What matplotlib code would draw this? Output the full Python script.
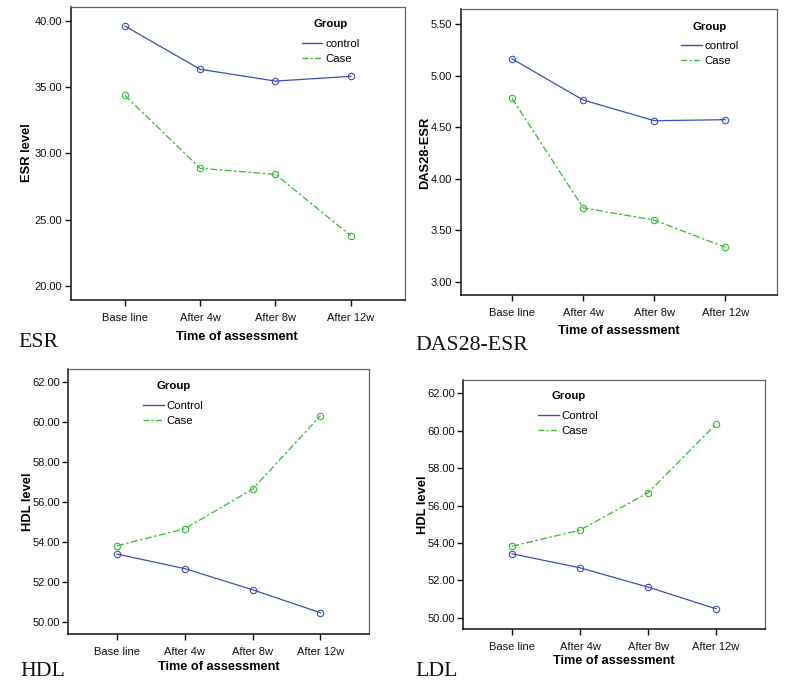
import matplotlib
matplotlib.use("Agg")
import matplotlib.pyplot as plt
from matplotlib.lines import Line2D

# ---- data ----
time_points = ["Base line", "After 4w", "After 8w", "After 12w"]

esr_control = [39.62, 36.35, 35.46, 35.82]
esr_case = [34.38, 28.87, 28.41, 23.78]

das_control = [5.163, 4.763, 4.562, 4.572]
das_case = [4.780, 3.717, 3.597, 3.334]

hdl_control = [53.39, 52.66, 51.60, 50.45]
hdl_case = [53.81, 54.66, 56.65, 60.33]

ldl_control = [53.42, 52.67, 51.64, 50.48]
ldl_case = [53.83, 54.69, 56.69, 60.36]

esr_ticks = [20.0, 25.0, 30.0, 35.0, 40.0]
das_ticks = [3.0, 3.5, 4.0, 4.5, 5.0, 5.5]
lip_ticks = [50.0, 52.0, 54.0, 56.0, 58.0, 60.0, 62.0]

W, H = 787, 691
plt.rcParams['font.family'] = ['Liberation Sans', 'DejaVu Sans']
fig = plt.figure(figsize=(W / 100, H / 100), dpi=100)

BLUE = "#3a4ec0"
GREEN = "#2cc02c"
CASE_DASH = (0, (5.5, 2.0, 2.0, 2.0))


def px_rect(l, r, t, b):
    return [l / W, 1 - b / H, (r - l) / W, (b - t) / H]


panels = [
    dict(rect=(70.7, 405, 6.7, 300), ctrl=esr_control, case=esr_case, ticks=esr_ticks,
         ylim=(18.92, 41.08), ylabel="ESR level", ylab_xy=(26.7, 153),
         xlab_xy=(237, 337), leg_xy=(301.7, 19.0), labels=("control", "Case"),
         title="ESR", title_xy=(18, 347)),
    dict(rect=(460.7, 776.7, 9.3, 295), ctrl=das_control, case=das_case, ticks=das_ticks,
         ylim=(2.871, 5.643), ylabel="DAS28-ESR", ylab_xy=(425, 152.5),
         xlab_xy=(618.7, 331), leg_xy=(681, 21.5), labels=("control", "Case"),
         title="DAS28-ESR", title_xy=(415, 350)),
    dict(rect=(68.3, 369.3, 369.3, 634.3), ctrl=hdl_control, case=hdl_case, ticks=lip_ticks,
         ylim=(49.37, 62.65), ylabel="HDL level", ylab_xy=(28, 501.7),
         xlab_xy=(219, 667), leg_xy=(143.3, 381.0), labels=("Control", "Case"),
         title="HDL", title_xy=(20, 676)),
    dict(rect=(463.3, 765, 380.3, 629), ctrl=ldl_control, case=ldl_case, ticks=lip_ticks,
         ylim=(49.4, 62.7), ylabel="HDL level", ylab_xy=(423.3, 505),
         xlab_xy=(614, 660.7), leg_xy=(538.3, 391.0), labels=("Control", "Case"),
         title="LDL", title_xy=(415, 676)),
]

x = list(range(len(time_points)))

for p in panels:
    ax = fig.add_axes(px_rect(*p["rect"]))
    ax.plot(x, p["ctrl"], color=BLUE, lw=0.9, marker='o', ms=4.6, mfc='none',
            mec=BLUE, mew=0.8)
    ax.plot(x, p["case"], color=GREEN, lw=0.9, ls=CASE_DASH, marker='o', ms=4.6,
            mfc='none', mec=GREEN, mew=0.8)
    ax.set_xlim(-0.72, 3.72)
    ax.set_ylim(*p["ylim"])
    ax.set_xticks(x)
    ax.set_xticklabels(time_points)
    ax.set_yticks(p["ticks"])
    ax.set_yticklabels([f"{t:.2f}" for t in p["ticks"]])
    ax.tick_params(axis='both', direction='out', length=4.5, width=1.0,
                   labelsize=8, colors='#111111', pad=1.5)
    ax.tick_params(axis='x', pad=5)
    for s in ("left", "bottom"):
        ax.spines[s].set_color('#111111')
        ax.spines[s].set_linewidth(1.1)
    for s in ("top", "right"):
        ax.spines[s].set_color('#666666')
        ax.spines[s].set_linewidth(0.9)

    ax.set_ylabel(p["ylabel"], fontsize=9.3, fontweight='bold')
    ax.yaxis.set_label_coords(p["ylab_xy"][0] / W, 1 - p["ylab_xy"][1] / H,
                              transform=fig.transFigure)
    ax.set_xlabel("Time of assessment", fontsize=9.2, fontweight='bold')
    ax.xaxis.set_label_coords(p["xlab_xy"][0] / W, 1 - p["xlab_xy"][1] / H,
                              transform=fig.transFigure)
    ax.xaxis.label.set_va('center')
    ax.yaxis.label.set_va('center')

    handles = [Line2D([], [], color=BLUE, lw=1.0),
               Line2D([], [], color=GREEN, lw=1.0, ls=(0, (4.0, 1.8, 1.5, 1.8)))]
    leg = ax.legend(handles, p["labels"], title="Group", loc='upper left',
                    bbox_to_anchor=(p["leg_xy"][0] / W, 1 - p["leg_xy"][1] / H),
                    bbox_transform=fig.transFigure, frameon=False, fontsize=8.2,
                    title_fontproperties={'weight': 'bold', 'size': 8.2},
                    handlelength=1.8, handletextpad=0.25, labelspacing=0.42,
                    borderpad=0, borderaxespad=0)
    leg._legend_box.sep = 7

    fig.text(p["title_xy"][0] / W, 1 - p["title_xy"][1] / H, p["title"],
             family=['Liberation Serif', 'DejaVu Serif'], fontsize=15.7,
             ha='left', va='baseline', color='#111111')

fig.savefig("out.png", dpi=100)
